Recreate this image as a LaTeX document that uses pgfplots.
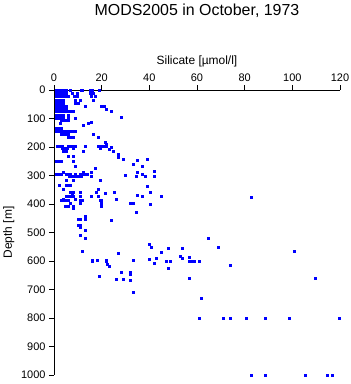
\documentclass[border=0pt]{standalone}
\usepackage{pgfplots}
\pgfplotsset{compat=1.18}
\usepackage{fontspec}
\setmainfont{Liberation Sans}
\begin{document}
\begin{tikzpicture}
\useasboundingbox (0,0) rectangle (351bp,-384bp);
\begin{axis}[
  at={(54bp,-375bp)}, anchor=south west,
  scale only axis, width=286bp, height=285bp,
  xmin=0, xmax=120, ymin=0, ymax=1000,
  y dir=reverse,
  axis x line*=top, axis y line*=left,
  xtick={0,20,...,120}, ytick={0,100,...,1000},
  tick align=outside, major tick length=5bp,
  minor tick num=0,
  /pgf/number format/assume math mode=true,
  /pgf/number format/1000 sep={},
  ticklabel style={font=\fontsize{11}{13}\selectfont},
  xlabel={Silicate [µmol/l]},
  ylabel={Depth [m]},
  label style={font=\fontsize{12}{14}\selectfont},
  title={MODS2005 in October, 1973},
  title style={font=\fontsize{16}{18}\selectfont, at={(axis description cs:0.5,1)}, anchor=base, yshift=69bp},
  axis line style={line width=0.8pt, black},
  tick style={line width=0.8pt, black},
  clip=false,
]
\addplot[only marks, mark=square*, mark size=1.0bp, color={rgb,255:red,0;green,0;blue,255}] coordinates {
(0.8,0)(1.8,0)(2.5,0)(3.2,0)(3.9,0)(4.6,0)(5.3,0)(6.7,0)(11.6,0)(12.0,0)(15.1,0)(16.0,0)(19.0,0)
(1.0,12)(2.0,12)(3.0,12)(4.0,12)(5.0,12)(7.5,12)(9.6,12)(15.1,12)(16.5,12)
(1.0,23)(2.0,23)(3.0,23)(4.0,23)(5.0,23)(6.0,23)(8.4,23)(9.6,23)(15.8,23)(17.2,23)
(1.0,35)(2.0,35)(3.0,35)(4.0,35)(9.1,35)(11.2,35)(16.5,35)
(1.0,47)(2.0,47)(3.0,47)(4.0,47)(9.1,47)(10.2,47)
(1.0,58)(2.0,58)(3.0,58)(4.0,58)(5.0,58)(13.0,58)(19.8,58)(21.2,58)
(1.0,67)(2.0,67)(3.0,67)(4.0,67)(5.0,67)(22.1,67)(23.9,73)
(1.0,76)(2.0,76)(3.0,76)(4.0,76)(5.0,76)(6.0,76)(7.0,76)(8.1,76)
(1.0,88)(2.0,88)(3.0,88)(4.0,88)(6.0,88)
(1.0,99)(2.0,99)(3.0,99)(4.0,99)(6.0,99)(8.8,99)(28.1,94)
(3.0,105)(4.0,105)(5.0,105)(6.0,105)
(2.5,117)(14.4,117)(12.3,123)(15.5,114)
(1.0,135)(2.0,135)(3.0,135)
(1.0,146)(2.0,146)(3.0,146)(4.0,146)(5.0,146)(6.0,146)(7.0,146)(8.0,146)(9.0,146)
(3.0,155)(4.0,155)(5.0,155)(6.0,155)(16.5,155)
(6.0,166)(7.0,166)(8.0,166)(18.5,166)
(21.4,184)(22.1,190)
(1.5,196)(2.5,196)(3.5,196)(6.0,196)(7.0,196)(8.0,196)(9.0,196)(13.0,196)(18.5,196)(19.5,196)(20.5,196)(22.1,196)
(3.5,205)(4.5,205)(5.5,205)(8.0,205)(19.5,205)(23.9,201)
(4.0,216)(5.0,216)(12.3,216)(24.9,216)(23.1,208)
(6.0,234)(8.0,234)(27.0,224)(27.0,237)
(1.0,251)(2.0,251)(3.0,251)(8.0,251)(29.1,243)(35.0,248)(39.1,243)
(8.7,266)(33.3,261)(36.9,267)
(17.2,274)
(3.9,287)(12.3,287)(15.8,287)(41.9,284)(35.0,289)
(1.0,295)(2.0,295)(3.0,295)(5.0,295)(6.0,295)(7.0,295)(8.7,295)(11.0,295)(12.0,295)(13.0,295)(14.0,295)(30.0,298)(36.9,296)
(6.5,302)(7.5,302)(8.5,302)(9.5,302)(10.5,302)(11.5,302)(15.8,302)(34.3,302)(38.3,302)(41.9,304)
(5.0,316)(8.0,316)(19.3,316)
(2.0,333)(5.0,333)(6.0,333)(7.0,333)(39.3,337)
(4.0,349)(18.5,349)
(7.0,360)(8.0,360)(11.0,360)(17.6,360)(25.1,357)(40.2,359)(21.4,363)
(7.5,368)(35.0,368)(36.9,372)(8.1,372)
(3.9,383)(8.7,383)
(5.0,374)(6.0,374)(7.0,374)(8.0,374)(11.0,374)(15.8,374)(18.5,374)(45.0,374)
(3.0,386)(4.0,386)(5.0,386)(6.0,386)(11.0,386)(12.0,386)(19.3,386)(20.0,386)(26.3,384)
(7.0,398)(11.0,398)(20.0,398)(31.8,398)(33.2,398)(40.2,400)
(4.6,409)(5.3,409)(6.0,409)(8.1,409)(20.0,409)
(8.0,415)(34.6,429)(13.0,444)
(10.2,453)(11.0,453)(13.0,453)(23.9,456)
(10.2,474)(10.9,474)(11.2,480)(13.0,492)(11.0,511)(13.3,521)(12.0,565)
(39.8,540)(40.9,552)(68.8,552)(47.9,556)(53.8,556)(64.7,520)(45.1,570)(27.0,572)
(52.8,582)(56.7,587)(42.9,590)(53.8,590)(40.0,593)
(16.1,597)(18.3,597)(22.1,597)(33.1,597)
(47.0,601)(48.9,601)(56.7,601)(57.7,601)(58.7,601)(60.9,601)
(16.1,602)(22.1,602)(42.1,608)(22.5,612)(23.2,617)(73.8,613)(47.9,626)
(28.1,641)(32.0,641)(32.0,647)(19.0,655)(56.7,659)(109.5,659)
(26.3,664)(29.1,664)(32.0,667)(33.1,710)(61.7,731)(100.7,565)(82.6,375)
(60.9,801)(70.8,801)(73.8,801)(80.7,801)(88.6,801)(98.7,801)(119.6,801)
(82.9,1000)(88.6,1000)(105.5,1000)(114.6,1000)(116.7,1000)
};
\end{axis}
\end{tikzpicture}
\end{document}
